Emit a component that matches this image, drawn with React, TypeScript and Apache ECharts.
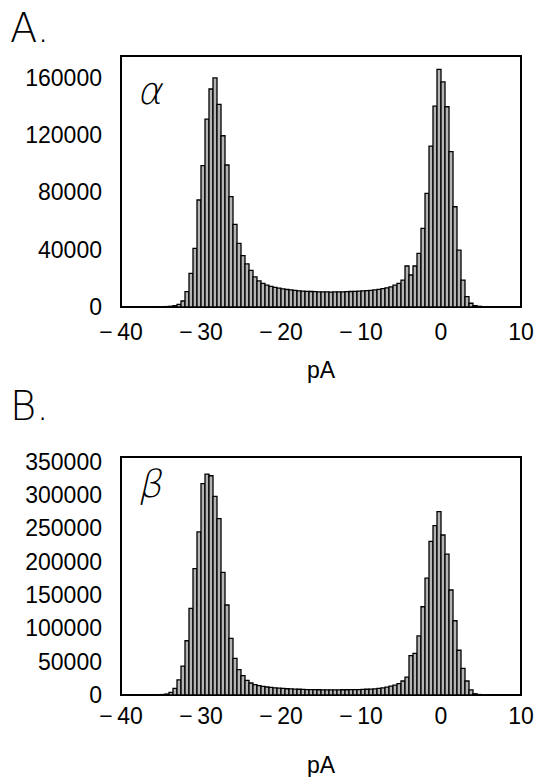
import React, { useEffect, useRef } from "react";
import * as echarts from "echarts";

const BIN = 0.5;

const binCenters = [
  -35.25, -34.75, -34.25, -33.75, -33.25, -32.75, -32.25, -31.75, -31.25, -30.75,
  -30.25, -29.75, -29.25, -28.75, -28.25, -27.75, -27.25, -26.75, -26.25, -25.75,
  -25.25, -24.75, -24.25, -23.75, -23.25, -22.75, -22.25, -21.75, -21.25, -20.75,
  -20.25, -19.75, -19.25, -18.75, -18.25, -17.75, -17.25, -16.75, -16.25, -15.75,
  -15.25, -14.75, -14.25, -13.75, -13.25, -12.75, -12.25, -11.75, -11.25, -10.75,
  -10.25, -9.75, -9.25, -8.75, -8.25, -7.75, -7.25, -6.75, -6.25, -5.75,
  -5.25, -4.75, -4.25, -3.75, -3.25, -2.75, -2.25, -1.75, -1.25, -0.75,
  -0.25, 0.25, 0.75, 1.25, 1.75, 2.25, 2.75, 3.25, 3.75, 4.25,
  4.75, 5.25,
];

const countsAlpha = [
  100, 200, 300, 500, 900, 1800, 4200, 10700, 23500, 40900,
  74600, 98500, 131000, 152000, 159800, 141300, 119400, 99000, 76900, 57600,
  44400, 35800, 30000, 25500, 21000, 18200, 16500, 15300, 14400, 13700,
  13100, 12600, 12200, 11900, 11600, 11300, 11100, 10900, 10800, 10700,
  10600, 10500, 10500, 10400, 10500, 10500, 10600, 10700, 10800, 10900,
  11000, 11200, 11400, 11600, 11900, 12300, 12800, 13400, 14100, 15300,
  16500, 18800, 28600, 22300, 28600, 37400, 54800, 79200, 112200, 140100,
  165700, 157000, 139600, 108300, 69900, 39700, 18800, 7200, 2600, 1000,
  500, 200,
];

const countsBeta = [
  300, 700, 1500, 3900, 10000, 22800, 43300, 81400, 130000, 189500,
  244600, 317000, 331300, 328900, 298000, 264600, 183800, 135000, 85000, 55000,
  38000, 29000, 22000, 18000, 15500, 14000, 13000, 12000, 11300, 10700,
  10200, 9800, 9400, 9100, 8800, 8600, 8400, 8200, 8100, 8000,
  7900, 7800, 7800, 7800, 7800, 7800, 7900, 7900, 8000, 8100,
  8200, 8400, 8600, 8900, 9300, 9900, 10600, 11800, 13300, 14700,
  17100, 21000, 26700, 59000, 62400, 88600, 132400, 175200, 230300, 254200,
  275200, 240000, 211400, 157500, 111400, 67100, 40000, 21000, 7600, 1900,
  700, 200,
];

const xTicks = [-40, -30, -20, -10, 0, 10];
const yMaxAlpha = 175000;
const yStepAlpha = 40000;
const yMaxBeta = 357000;
const yStepBeta = 50000;

const FONT = "'Liberation Sans', Arial, sans-serif";
const THIN = "'DejaVu Sans', sans-serif";

function renderBar(params: any, api: any) {
  const c = api.value(0);
  const v = api.value(1);
  const p0 = api.coord([c - BIN / 2, v]);
  const p1 = api.coord([c + BIN / 2, 0]);
  return {
    type: "rect",
    shape: { x: p0[0], y: p0[1], width: p1[0] - p0[0], height: p1[1] - p0[1] },
    style: { fill: "#b4b4b4", stroke: "#000", lineWidth: 1.3 },
  };
}

function xAxisCfg(gridIndex: number, nameGap: number, margin: number) {
  return {
    type: "value",
    gridIndex,
    min: xTicks[0],
    max: xTicks[xTicks.length - 1],
    interval: 10,
    name: "pA",
    nameLocation: "middle",
    nameGap,
    nameTextStyle: { color: "#000", fontSize: 23, fontFamily: FONT },
    axisLine: { show: false },
    axisTick: { show: false },
    splitLine: { show: false },
    axisLabel: {
      color: "#000",
      fontSize: 23,
      fontFamily: FONT,
      margin,
      formatter: (v: number) => (v < 0 ? "\u2212\u2009" + Math.abs(v) : String(v)),
    },
  };
}

function yAxisCfg(gridIndex: number, max: number, step: number) {
  return {
    type: "value",
    gridIndex,
    min: 0,
    max,
    interval: step,
    axisLine: { show: false },
    axisTick: { show: false },
    splitLine: { show: false },
    axisLabel: {
      color: "#000",
      fontSize: 23,
      fontFamily: FONT,
      margin: 19,
      formatter: (v: number) => (v % step === 0 ? String(v) : ""),
    },
  };
}

export default function App() {
  const ref = useRef<HTMLDivElement>(null);
  useEffect(() => {
    if (!ref.current) return;
    const chart = echarts.init(ref.current, null, { renderer: "svg" });
    chart.setOption({
      animation: false,
      backgroundColor: "#fff",
      grid: [
        { left: 121, top: 56, width: 400, height: 251, show: true, borderColor: "#000", borderWidth: 2, backgroundColor: "transparent" },
        { left: 121, top: 457, width: 400, height: 250, show: true, borderColor: "#000", borderWidth: 2, backgroundColor: "transparent" },
      ],
      xAxis: [xAxisCfg(0, 51, 13), xAxisCfg(1, 58, 9)],
      yAxis: [yAxisCfg(0, yMaxAlpha, yStepAlpha), yAxisCfg(1, yMaxBeta, yStepBeta)],
      series: [
        {
          type: "custom",
          xAxisIndex: 0,
          yAxisIndex: 0,
          renderItem: renderBar,
          clip: true,
          data: binCenters.map((c, i) => [c, countsAlpha[i]]),
        },
        {
          type: "custom",
          xAxisIndex: 1,
          yAxisIndex: 1,
          renderItem: renderBar,
          clip: true,
          data: binCenters.map((c, i) => [c, countsBeta[i]]),
        },
      ],
      graphic: [
        { type: "text", left: 10, top: 8, style: { text: "A.", fontSize: 40, fontFamily: THIN, fontWeight: 200, fill: "#000" } },
        { type: "text", left: 10, top: 386, style: { text: "B.", fontSize: 40, fontFamily: THIN, fontWeight: 200, fill: "#000" } },
        { type: "text", x: 144, y: 72, skewX: -0.22, style: { text: "α", fontSize: 38, fontFamily: THIN, fontWeight: 200, fill: "#000" } },
        { type: "text", x: 145, y: 465, skewX: -0.22, style: { text: "β", fontSize: 38, fontFamily: THIN, fontWeight: 200, fill: "#000" } },
      ],
    });
    return () => chart.dispose();
  }, []);
  return <div ref={ref} style={{ position: "fixed", left: 0, top: 0, width: 545, height: 777 }} />;
}
